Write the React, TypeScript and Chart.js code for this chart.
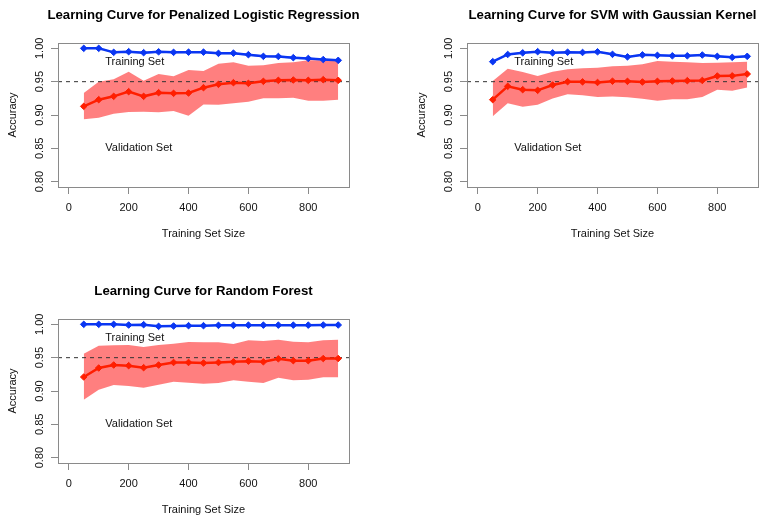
import React, { useEffect, useRef } from "react";
import { Chart, registerables } from "chart.js";

Chart.register(...registerables);

// ---------- data ----------
const SIZES = [50, 100, 150, 200, 250, 300, 350, 400, 450, 500, 550, 600, 650, 700, 750, 800, 850, 900];
const X_TICKS = [0, 200, 400, 600, 800];
const Y_TICKS = [0.8, 0.85, 0.9, 0.95, 1.0];
const X_MIN = -36;
const X_MAX = 936;
const Y_MIN = 0.792;
const Y_MAX = 1.008;
const REF_ACCURACY = 0.95;
const TEXT_X = 122;
const TRAIN_TEXT_Y = 0.98;
const VAL_TEXT_Y = 0.85;

const TITLES = [
  "Learning Curve for Penalized Logistic Regression",
  "Learning Curve for SVM with Gaussian Kernel",
  "Learning Curve for Random Forest",
];

// Penalized logistic regression
const LR_TRAIN = [1.0, 1.0, 0.994, 0.995, 0.9935, 0.9948, 0.994, 0.9943, 0.9943, 0.9925, 0.9928, 0.9905, 0.988, 0.9878, 0.986, 0.9848, 0.9832, 0.982];
const LR_TRAIN_HI = [1.0, 1.0, 0.9955, 0.9965, 0.995, 0.996, 0.9955, 0.9957, 0.9957, 0.994, 0.9942, 0.992, 0.9895, 0.9893, 0.9877, 0.9863, 0.9848, 0.9835];
const LR_TRAIN_LO = [1.0, 1.0, 0.9925, 0.9935, 0.992, 0.9935, 0.9925, 0.993, 0.993, 0.991, 0.9913, 0.989, 0.9865, 0.9862, 0.9845, 0.9832, 0.9818, 0.9805];
const LR_VAL = [0.913, 0.923, 0.928, 0.935, 0.928, 0.9335, 0.9325, 0.933, 0.941, 0.946, 0.9485, 0.9475, 0.9505, 0.952, 0.9525, 0.952, 0.953, 0.952];
const LR_VAL_HI = [0.933, 0.95, 0.9538, 0.965, 0.9515, 0.9615, 0.958, 0.9675, 0.966, 0.977, 0.979, 0.974, 0.9745, 0.978, 0.979, 0.982, 0.982, 0.9805];
const LR_VAL_LO = [0.8935, 0.8958, 0.9018, 0.9045, 0.9048, 0.904, 0.906, 0.8988, 0.9158, 0.9152, 0.9175, 0.92, 0.925, 0.925, 0.926, 0.9212, 0.9215, 0.923];

// SVM with Gaussian kernel
const SVM_TRAIN = [0.98, 0.9908, 0.9932, 0.995, 0.9932, 0.9942, 0.9938, 0.9948, 0.991, 0.9872, 0.9902, 0.9895, 0.9888, 0.9888, 0.99, 0.988, 0.9865, 0.988];
const SVM_TRAIN_HI = [0.9812, 0.992, 0.9944, 0.9962, 0.9944, 0.9954, 0.995, 0.996, 0.9922, 0.9884, 0.9914, 0.9907, 0.99, 0.99, 0.9912, 0.9892, 0.9877, 0.9892];
const SVM_TRAIN_LO = [0.9788, 0.9896, 0.992, 0.9938, 0.992, 0.993, 0.9926, 0.9936, 0.9898, 0.986, 0.989, 0.9883, 0.9876, 0.9876, 0.9888, 0.9868, 0.9853, 0.9868];
const SVM_VAL = [0.923, 0.943, 0.938, 0.937, 0.945, 0.95, 0.9497, 0.9488, 0.9507, 0.9505, 0.9495, 0.9505, 0.951, 0.9515, 0.9518, 0.9585, 0.9587, 0.9615];
const SVM_VAL_HI = [0.951, 0.9695, 0.9645, 0.9585, 0.965, 0.9685, 0.97, 0.971, 0.973, 0.974, 0.976, 0.981, 0.98, 0.979, 0.978, 0.9785, 0.979, 0.98];
const SVM_VAL_LO = [0.898, 0.9175, 0.9125, 0.9155, 0.9248, 0.9312, 0.9298, 0.927, 0.9278, 0.9268, 0.9245, 0.9212, 0.9238, 0.9238, 0.927, 0.938, 0.9362, 0.9412];

// Random forest
const RF_TRAIN = [1.0, 1.0, 1.0, 0.999, 0.9995, 0.997, 0.9975, 0.998, 0.998, 0.9985, 0.9985, 0.9988, 0.9988, 0.9988, 0.9988, 0.9988, 0.999, 0.999];
const RF_TRAIN_HI = [1.0, 1.0, 1.0, 0.9998, 1.0, 0.9978, 0.9983, 0.9988, 0.9988, 0.9993, 0.9993, 0.9996, 0.9996, 0.9996, 0.9996, 0.9996, 0.9998, 0.9998];
const RF_TRAIN_LO = [1.0, 1.0, 1.0, 0.9982, 0.999, 0.9962, 0.9967, 0.9972, 0.9972, 0.9977, 0.9977, 0.998, 0.998, 0.998, 0.998, 0.998, 0.9982, 0.9982];
const RF_VAL = [0.921, 0.9345, 0.939, 0.938, 0.935, 0.939, 0.9428, 0.9428, 0.942, 0.9428, 0.9438, 0.9448, 0.9438, 0.9483, 0.9455, 0.9455, 0.9487, 0.9487];
const RF_VAL_HI = [0.956, 0.968, 0.9685, 0.969, 0.966, 0.969, 0.971, 0.9735, 0.973, 0.973, 0.9705, 0.976, 0.975, 0.977, 0.974, 0.973, 0.976, 0.977];
const RF_VAL_LO = [0.887, 0.902, 0.909, 0.9075, 0.905, 0.9095, 0.914, 0.9125, 0.911, 0.912, 0.916, 0.914, 0.912, 0.92, 0.916, 0.917, 0.9205, 0.9205];

// ---------- style ----------
const FONT = "'Liberation Sans', Arial, Helvetica, sans-serif";
const TEXT_COLOR = "#111";
const FRAME_COLOR = "#8a8a8a";
const RED = "#ff1e00";
const BLUE = "#0a36f2";
const RED_BAND = "rgba(255,0,0,0.5)";
const BLUE_BAND = "rgba(40,80,255,0.55)";

const AXIS_W = 58;
const CANVAS_W = 407;
const CANVAS_H = 247;

type PanelData = {
  title: string;
  train: number[];
  trainHi: number[];
  trainLo: number[];
  val: number[];
  valHi: number[];
  valLo: number[];
};

const PANELS: { data: PanelData; left: number; top: number }[] = [
  { data: { title: TITLES[0], train: LR_TRAIN, trainHi: LR_TRAIN_HI, trainLo: LR_TRAIN_LO, val: LR_VAL, valHi: LR_VAL_HI, valLo: LR_VAL_LO }, left: 0, top: 0 },
  { data: { title: TITLES[1], train: SVM_TRAIN, trainHi: SVM_TRAIN_HI, trainLo: SVM_TRAIN_LO, val: SVM_VAL, valHi: SVM_VAL_HI, valLo: SVM_VAL_LO }, left: 409, top: 0 },
  { data: { title: TITLES[2], train: RF_TRAIN, trainHi: RF_TRAIN_HI, trainLo: RF_TRAIN_LO, val: RF_VAL, valHi: RF_VAL_HI, valLo: RF_VAL_LO }, left: 0, top: 276 },
];

const pts = (ys: number[]) => SIZES.map((x, i) => ({ x, y: ys[i] }));

const framePlugin = {
  id: "frame",
  afterDraw(chart: any) {
    const { ctx, chartArea } = chart;
    ctx.save();
    ctx.strokeStyle = FRAME_COLOR;
    ctx.lineWidth = 1;
    ctx.strokeRect(chartArea.left + 0.5, chartArea.top + 0.5, chartArea.right - chartArea.left, chartArea.bottom - chartArea.top);
    ctx.restore();
  },
};

const labelPlugin = {
  id: "setLabels",
  afterDatasetsDraw(chart: any) {
    const { ctx, scales } = chart;
    ctx.save();
    ctx.font = `11px ${FONT}`;
    ctx.fillStyle = TEXT_COLOR;
    ctx.textAlign = "left";
    ctx.textBaseline = "middle";
    ctx.fillText("Training Set", scales.x.getPixelForValue(TEXT_X), scales.y.getPixelForValue(TRAIN_TEXT_Y));
    ctx.fillText("Validation Set", scales.x.getPixelForValue(TEXT_X), scales.y.getPixelForValue(VAL_TEXT_Y));
    ctx.restore();
  },
};

function Panel({ data, left, top }: { data: PanelData; left: number; top: number }) {
  const ref = useRef<HTMLCanvasElement | null>(null);
  useEffect(() => {
    if (!ref.current) return;
    const band = (ys: number[], color: string, fill: number | false, order: number) => ({
      data: pts(ys),
      borderColor: "transparent",
      borderWidth: 0,
      backgroundColor: color,
      pointRadius: 0,
      fill,
      order,
      tension: 0,
    });
    const line = (ys: number[], color: string, order: number) => ({
      data: pts(ys),
      borderColor: color,
      backgroundColor: color,
      borderWidth: 2.5,
      pointStyle: "rectRot",
      pointRadius: 3.3,
      pointBorderWidth: 1,
      pointBackgroundColor: color,
      pointBorderColor: color,
      fill: false,
      tension: 0,
      order,
    });
    const tickFont = { family: FONT, size: 11, lineHeight: 1 };
    const chart = new Chart(ref.current, {
      type: "line",
      data: {
        datasets: [
          band(data.valLo, RED_BAND, false, 10) as any,
          band(data.valHi, RED_BAND, 0, 10) as any,
          band(data.trainLo, BLUE_BAND, false, 9) as any,
          band(data.trainHi, BLUE_BAND, 2, 9) as any,
          {
            data: [{ x: X_MIN, y: REF_ACCURACY }, { x: X_MAX, y: REF_ACCURACY }],
            borderColor: "#333",
            borderWidth: 1,
            borderDash: [4, 4],
            pointRadius: 0,
            fill: false,
            order: 5,
          },
          line(data.val, RED, 2) as any,
          line(data.train, BLUE, 1) as any,
        ],
      },
      options: {
        animation: false,
        responsive: false,
        events: [],
        layout: { padding: 0 },
        plugins: {
          legend: { display: false },
          tooltip: { enabled: false },
          title: {
            display: true,
            text: data.title,
            fullSize: true,
            color: "#000",
            font: { family: FONT, size: 13.2, weight: "bold", lineHeight: 1 },
            padding: { top: 8.9, bottom: 20.9 },
          },
        },
        scales: {
          x: {
            type: "linear",
            min: X_MIN,
            max: X_MAX,
            afterBuildTicks: (s: any) => {
              s.ticks = X_TICKS.map((v) => ({ value: v }));
            },
            afterFit: (s: any) => {
              s.height = 60;
            },
            grid: { display: true, drawOnChartArea: false, drawTicks: true, tickLength: 7, tickColor: FRAME_COLOR, color: FRAME_COLOR },
            border: { display: false },
            ticks: {
              autoSkip: false,
              maxRotation: 0,
              minRotation: 0,
              padding: 8.2,
              color: TEXT_COLOR,
              font: tickFont,
              callback: (v: any) => String(v),
            },
            title: {
              display: true,
              text: "Training Set Size",
              color: TEXT_COLOR,
              font: tickFont,
              padding: { top: 0, bottom: 8 },
            },
          },
          y: {
            type: "linear",
            position: "left",
            min: Y_MIN,
            max: Y_MAX,
            afterBuildTicks: (s: any) => {
              s.ticks = Y_TICKS.map((v) => ({ value: v }));
            },
            afterFit: (s: any) => {
              s.width = AXIS_W;
            },
            grid: { display: true, drawOnChartArea: false, drawTicks: true, tickLength: 7, tickColor: FRAME_COLOR, color: FRAME_COLOR },
            border: { display: false },
            ticks: {
              autoSkip: false,
              minRotation: 90,
              maxRotation: 90,
              crossAlign: "center",
              padding: 0.8,
              color: TEXT_COLOR,
              font: tickFont,
              callback: (v: any) => Number(v).toFixed(2),
            },
            title: {
              display: true,
              text: "Accuracy",
              color: TEXT_COLOR,
              font: tickFont,
              padding: { top: 7, bottom: 0 },
            },
          },
          // empty right margin, same width as the left axis, so the title centres over the plot
          yMargin: {
            type: "linear",
            position: "right",
            min: Y_MIN,
            max: Y_MAX,
            display: true,
            afterFit: (s: any) => {
              s.width = AXIS_W;
            },
            grid: { display: false },
            border: { display: false },
            ticks: { display: false },
          },
        },
      } as any,
      plugins: [framePlugin, labelPlugin],
    });
    return () => chart.destroy();
  }, [data]);
  return (
    <canvas
      ref={ref}
      width={CANVAS_W}
      height={CANVAS_H}
      style={{ position: "absolute", left, top, width: CANVAS_W, height: CANVAS_H }}
    />
  );
}

export default function App() {
  return (
    <div style={{ position: "absolute", left: 0, top: 0, width: 770, height: 523, overflow: "hidden", background: "#fff" }}>
      {PANELS.map((p, i) => (
        <Panel key={i} data={p.data} left={p.left} top={p.top} />
      ))}
    </div>
  );
}
